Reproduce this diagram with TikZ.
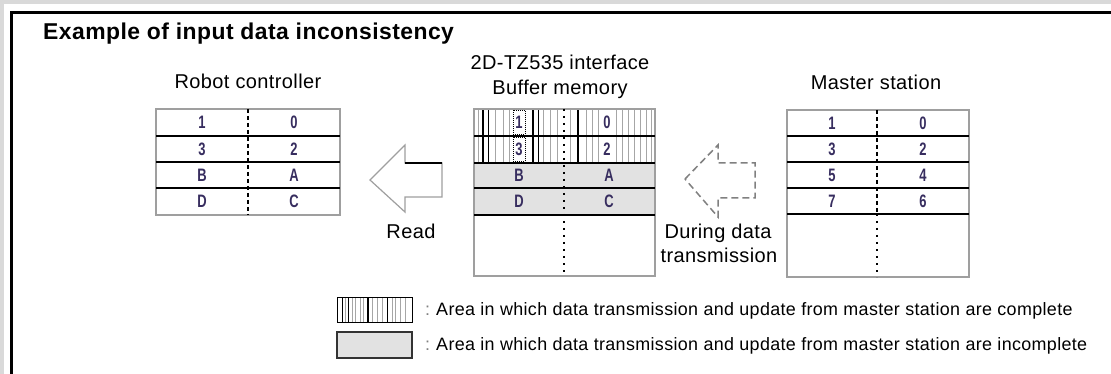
\documentclass[tikz,border=0pt]{standalone}
\usepackage{fontspec}
\setmainfont{Liberation Sans}[LetterSpace=2]
\newfontfamily\titlefont{Liberation Sans}[LetterSpace=2]
\newfontfamily\cellfont{Liberation Sans}[FakeStretch=0.72]
\usetikzlibrary{positioning}
\definecolor{bggray}{RGB}{217,217,217}
\definecolor{bufgray}{RGB}{226,226,226}
\definecolor{celltext}{RGB}{55,45,95}
\tikzset{
	lbl/.style={font=\fontsize{20}{22}\selectfont, inner sep=0pt}, % Titulos sobre las tablas
	note/.style={font=\fontsize{17.9}{19}\selectfont, inner sep=0pt}, % Texto de la leyenda
	cell/.style={font=\cellfont\bfseries\fontsize{18}{20}\selectfont, text=celltext, inner sep=0pt}, % Datos de las celdas
	frameline/.style={draw=gray!75, line width=1.3pt}, % Borde de cada tabla
	rowline/.style={line width=1.6pt}, % Separacion entre filas
	dashline/.style={line width=1.2pt, dash pattern=on 4pt off 3pt},
	dotline/.style={line width=1.4pt, dash pattern=on 2pt off 5pt},
	hatchgrey/.style={draw=gray!70, line width=1pt},
	hatchblack/.style={draw=black, line width=1.8pt},
	readarrow/.style={draw=gray!75, line width=1.2pt, line join=miter},
	sendarrow/.style={draw=gray, line width=1.5pt, dash pattern=on 7pt off 4pt}
}

\begin{document}
\begin{tikzpicture}[x=1pt, y=-1pt]
	\useasboundingbox (0,0) rectangle (1111,374);
	% fondo y marco
	\fill[bggray] (0,0) rectangle (1111,374);
	\fill[white] (4,4) rectangle (1111,374);
	\draw[line width=2.6pt] (11.5,374) -- (11.5,12.5) -- (1111,12.5);
	\node[anchor=base west, inner sep=0pt, font=\titlefont\bfseries\fontsize{22.9}{24}\selectfont] (title) at (43,39.5) {Example of input data inconsistency};

	% robot controller
	\node[lbl, anchor=base] (rc) at (248,89) {Robot controller};
	\draw[frameline] (156,109) rectangle (340,215);
	\foreach \y in {136,162,188}
		\draw[rowline] (156,\y) -- (340,\y);
	\draw[dashline] (248,109) -- (248,215);
	\foreach \l/\r/\y [count=\i] in {1/0/122.5, 3/2/149, B/A/175, D/C/201.5} {
		\node[cell] (rc-l\i) at (202,\y) {\l};
		\node[cell] (rc-r\i) at (294,\y) {\r};
	}

	% buffer memory
	\node[lbl, anchor=base] (bm1) at (560,70) {2D-TZ535 interface};
	\node[lbl, anchor=base] (bm2) at (560,95) {Buffer memory};
	\fill[bufgray] (474,163) rectangle (655,215);
	\foreach \x in {478,495,503,509,543,550,557,570,586,592,598,616,622,628,634,640,646,651}
		\draw[hatchgrey] (\x,109) -- (\x,163);
	\foreach \x in {483,533,578}
		\draw[hatchblack] (\x,109) -- (\x,163);
	\foreach \x in {488,538}
		\draw[black, line width=1pt] (\x,109) -- (\x,163);
	\draw[frameline] (474,109) rectangle (655,276);
	\foreach \y in {136,163,188,215}
		\draw[rowline] (474,\y) -- (655,\y);
	\draw[dotline] (564,109) -- (564,276);
	\foreach \l/\r/\y [count=\i] in {1/0/122.5, 3/2/149.5} {
		\node[cell, fill=white, draw=black, densely dotted, line width=1pt, minimum width=12pt, minimum height=24pt] (bm-l\i) at (519,\y) {\l};
		\node[cell, fill=white, minimum width=12pt, minimum height=24pt] (bm-r\i) at (607,\y) {\r};
	}
	\foreach \l/\r/\y [count=\i from 3] in {B/A/175.5, D/C/201.5} {
		\node[cell] (bm-l\i) at (519,\y) {\l};
		\node[cell] (bm-r\i) at (609,\y) {\r};
	}

	% master station
	\node[lbl, anchor=base] (ms) at (876,90) {Master station};
	\draw[frameline] (787,110) rectangle (969,277);
	\foreach \y in {136,162,188,214}
		\draw[rowline] (787,\y) -- (969,\y);
	\draw[dashline] (877,110) -- (877,214);
	\draw[dotline] (877,214) -- (877,277);
	\foreach \l/\r/\y [count=\i] in {1/0/123, 3/2/149, 5/4/175, 7/6/201} {
		\node[cell] (ms-l\i) at (832,\y) {\l};
		\node[cell] (ms-r\i) at (923,\y) {\r};
	}

	% flechas
	\draw[readarrow] (370,180) -- (405,145) -- (405,163) -- (442,163) -- (442,197) -- (405,197) -- (405,212) -- cycle;
	\draw[line width=1.4pt] (405,163) -- (442,163);
	\node[lbl, anchor=base] (read) at (411,238) {Read};
	\draw[sendarrow] (685,179) -- (718,145) -- (718,163) -- (755,163) -- (755,198) -- (718,198) -- (718,217) -- cycle;
	\node[lbl, anchor=base] (send1) at (718,238) {During data};
	\node[lbl, anchor=base] (send2) at (719,262) {transmission};

	% leyenda
	\foreach \x in {345,352,355,360,363,372,377,382,392,395,400,405}
		\draw[hatchgrey] (\x,297) -- (\x,322);
	\foreach \x in {342,348,387}
		\draw[black, line width=1pt] (\x,297) -- (\x,322);
	\draw[hatchblack] (368,297) -- (368,322);
	\draw[black, line width=1pt] (337,297) rectangle (412,322);
	\draw[fill=bufgray, draw=gray!40!black, line width=1.3pt] (337,332) rectangle (412,358);
	\node[note, anchor=base west, text=gray] (c1) at (425,315) {:};
	\node[note, anchor=base west] (t1) at (436,315) {Area in which data transmission and update from master station are complete};
	\node[note, anchor=base west, text=gray] (c2) at (425,350) {:};
	\node[note, anchor=base west] (t2) at (436,350) {Area in which data transmission and update from master station are incomplete};
\end{tikzpicture}
\end{document}
